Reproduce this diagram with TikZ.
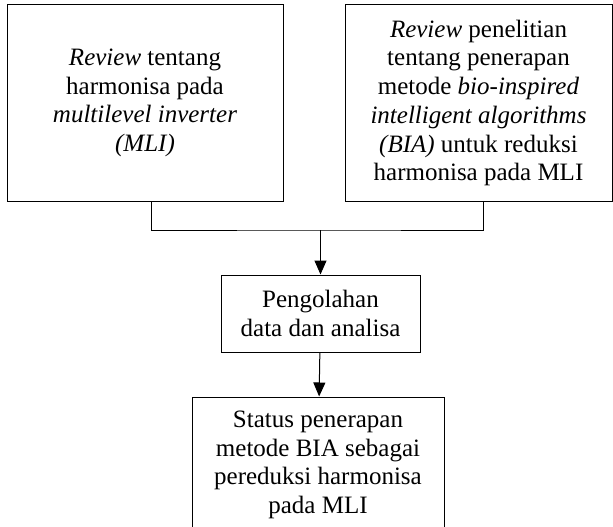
\documentclass[tikz,border=0pt]{standalone}
\usepackage{fontspec}
\setmainfont{Liberation Serif}
\usetikzlibrary{arrows.meta}

\begin{document}
\begin{tikzpicture}[x=1pt,y=-1pt]
		\useasboundingbox (0,0) rectangle (613,527);
		\clip (0,0) rectangle (613,527);
		\tikzstyle{every node}+=[draw,line width=1pt,align=center,inner sep=0pt,font=\fontsize{25}{28.75}\selectfont]
		\tikzstyle{arr}=[line width=1pt,-{Triangle[width=12pt,length=14pt]}]
		\node[minimum width=276,minimum height=196] (revmli) at (145,103)
			{\textit{Review} tentang\\harmonisa pada\\\textit{multilevel inverter}\\\textit{(MLI)}};
		\node[minimum width=267,minimum height=196] (revbia) at (478.5,103)
			{\textit{Review} penelitian\\tentang penerapan\\metode \textit{bio-inspired}\\\textit{intelligent algorithms}\\\textit{(BIA)} untuk reduksi\\harmonisa pada MLI};
		\node[minimum width=199,minimum height=77] (proc) at (320.5,313.5)
			{Pengolahan\\data dan analisa};
		\node[minimum width=252,minimum height=136] (status) at (318,465)
			{Status penerapan\\metode BIA sebagai\\pereduksi harmonisa\\pada MLI};
		\coordinate (join) at (320.5,230);
		\draw[line width=1pt] ([xshift=6pt]revmli.south) |- (join) -| ([xshift=4.5pt]revbia.south);
		\draw[arr] (join) -- (proc);
		\draw[arr] (proc) -- (status);
\end{tikzpicture}
\end{document}
